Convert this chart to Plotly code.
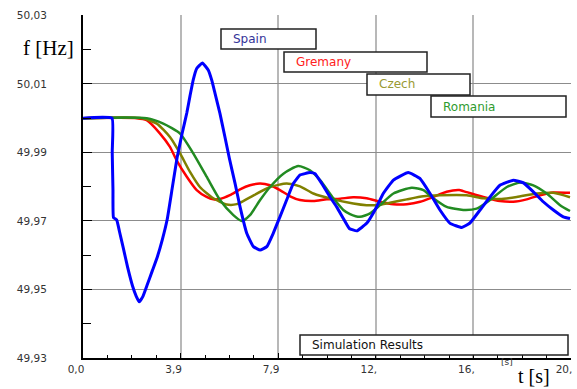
import plotly.graph_objects as go

# ---- data ----
t_spain = [0, 1.17, 1.18, 1.21, 1.23, 1.36, 1.47, 1.63, 1.80, 2.00, 2.15, 2.27, 2.42, 2.60, 2.80,
           3.00, 3.20, 3.40, 3.60, 3.80, 4.00, 4.19, 4.32, 4.45, 4.59, 4.82, 5.06, 5.20, 5.33, 5.53,
           5.73, 5.91, 6.14, 6.34, 6.61, 6.88, 7.15, 7.42, 7.68, 7.95, 8.22, 8.49, 8.76, 9.16, 9.37,
           9.64, 9.97, 10.24, 10.51, 10.75, 11.05, 11.45, 11.79, 12.12, 12.53, 13.13, 13.60, 14.01,
           14.41, 14.82, 15.29, 15.62, 16.03, 16.43, 16.83, 17.37, 17.78, 18.18, 18.58, 18.99,
           19.39, 19.66]
f_spain = [50.000, 50.000, 49.990, 49.979, 49.971, 49.9703, 49.967, 49.962, 49.9565, 49.951, 49.948,
           49.9464, 49.948, 49.9515, 49.9555, 49.9595, 49.9645, 49.9705, 49.9795, 49.9885, 49.9955,
           50.0015, 50.0065, 50.0112, 50.0145, 50.0161, 50.014, 50.011, 50.0072, 50.0013, 49.9945,
           49.9882, 49.9809, 49.9741, 49.9664, 49.9625, 49.9615, 49.9625, 49.9664, 49.9712, 49.9761,
           49.9809, 49.9834, 49.9841, 49.9838, 49.9809, 49.977, 49.9741, 49.9707, 49.9678, 49.9671,
           49.9693, 49.9732, 49.978, 49.9819, 49.9841, 49.9824, 49.978, 49.9732, 49.9693, 49.9681,
           49.9694, 49.9732, 49.977, 49.9804, 49.9819, 49.9811, 49.9785, 49.9756, 49.9732, 49.9712,
           49.9707]

t_germany = [0, 2.17, 2.57, 3.11, 3.51, 3.78, 4.19, 4.59, 4.99, 5.26, 5.53, 5.93, 6.34, 6.74, 7.15,
             7.55, 7.95, 8.36, 8.76, 9.30, 9.84, 10.38, 10.91, 11.45, 11.99, 12.53, 13.07, 13.61,
             14.14, 14.68, 15.19, 15.35, 16.16, 16.83, 17.37, 17.91, 18.45, 18.99, 19.66]
f_germany = [50.000, 50.000, 49.9994, 49.9955, 49.9916, 49.9877, 49.9829, 49.979, 49.977, 49.9763,
             49.9764, 49.9775, 49.9792, 49.9804, 49.9809, 49.9804, 49.979, 49.9772, 49.9761, 49.9758,
             49.9763, 49.9765, 49.9769, 49.9766, 49.9756, 49.9749, 49.9749, 49.9756, 49.977, 49.9785,
             49.979, 49.9787, 49.977, 49.9758, 49.9756, 49.9763, 49.9775, 49.9783, 49.9782]

t_czech = [0, 2.37, 2.98, 3.51, 3.92, 4.32, 4.72, 5.26, 5.80, 6.21, 6.74, 7.55, 8.22, 8.76, 9.30,
           10.11, 10.91, 11.45, 11.86, 12.39, 13.07, 13.74, 14.41, 15.49, 16.16, 16.83, 17.51, 18.32,
           18.99, 19.66]
f_czech = [50.000, 50.000, 49.9984, 49.9945, 49.9897, 49.9843, 49.9799, 49.9766, 49.9748, 49.9749,
           49.9769, 49.9799, 49.9809, 49.9801, 49.978, 49.9763, 49.9751, 49.9746, 49.9746, 49.9753,
           49.9763, 49.9772, 49.9775, 49.9775, 49.9766, 49.9764, 49.977, 49.978, 49.9782, 49.9769]

t_romania = [0, 2.57, 3.24, 3.92, 4.45, 4.99, 5.53, 6.07, 6.41, 6.74, 7.15, 7.55, 8.09, 8.69, 9.16,
             9.57, 10.11, 10.51, 10.78, 11.18, 11.59, 11.99, 12.53, 13.27, 13.74, 14.14, 14.68,
             15.35, 15.89, 16.43, 17.11, 17.64, 18.18, 18.72, 19.26, 19.66]
f_romania = [50.000, 50.000, 49.9984, 49.9955, 49.9897, 49.9829, 49.9761, 49.9717, 49.970, 49.9717,
             49.9761, 49.9799, 49.9838, 49.986, 49.9848, 49.9819, 49.9766, 49.9732, 49.972, 49.9712,
             49.9722, 49.9746, 49.978, 49.9797, 49.979, 49.9766, 49.9741, 49.9732, 49.9736, 49.9761,
             49.9799, 49.9812, 49.9804, 49.978, 49.9746, 49.9729]

x_tickvals = [0, 3.94, 7.88, 11.82, 15.76, 19.70]
x_ticktext = ["0,0", "3,9", "7,9", "12,", "16,", "20,"]
y_tickvals = [49.93, 49.95, 49.97, 49.99, 50.01, 50.03]
y_ticktext = ["49,93", "49,95", "49,97", "49,99", "50,01", "50,03"]
y_minorvals = [49.94, 49.96, 49.98, 50.00, 50.02]

series_names = ["Spain", "Gremany", "Czech", "Romania"]

# ---- layout geometry (pixels) ----
W, H = 577, 389
L, R, T, B = 83, 571, 15, 358
PW, PH = R - L, B - T


def px(x):
    return (x - L) / PW


def py(y):
    return (B - y) / PH


fig = go.Figure()
fig.add_trace(go.Scatter(x=t_germany, y=f_germany, mode="lines", name=series_names[1],
                         line=dict(color="#FF0000", width=2.5, shape="spline", smoothing=0.6)))
fig.add_trace(go.Scatter(x=t_czech, y=f_czech, mode="lines", name=series_names[2],
                         line=dict(color="#808000", width=2.5, shape="spline", smoothing=0.6)))
fig.add_trace(go.Scatter(x=t_romania, y=f_romania, mode="lines", name=series_names[3],
                         line=dict(color="#228B22", width=2.5, shape="spline", smoothing=0.6)))
fig.add_trace(go.Scatter(x=t_spain, y=f_spain, mode="lines", name=series_names[0],
                         line=dict(color="#0000FF", width=3, shape="spline", smoothing=0.35)))

tickfont = dict(family="DejaVu Sans", size=10.5, color="#333333")

fig.update_layout(
    width=W, height=H,
    margin=dict(l=L, r=W - R, t=T, b=H - B, pad=0),
    paper_bgcolor="white", plot_bgcolor="white",
    showlegend=False,
    xaxis=dict(range=[0, 19.7001], tickmode="array", tickvals=x_tickvals, ticktext=x_ticktext,
               showgrid=True, gridcolor="#b8b8b8", gridwidth=2, zeroline=False,
               showline=True, linecolor="black", linewidth=2,
               ticks="inside", ticklen=5, tickcolor="black", tickwidth=1,
               minor=dict(dtick=0.985, tick0=0, ticks="inside", ticklen=3, tickcolor="black",
                          showgrid=False),
               tickfont=tickfont, ticklabelshift=-7, ticklabelstandoff=0),
    yaxis=dict(range=[49.93, 50.0301], tickmode="array", tickvals=y_tickvals, ticktext=y_ticktext,
               showgrid=True, gridcolor="#8c8c8c", gridwidth=1, zeroline=False,
               showline=True, linecolor="black", linewidth=2,
               ticks="inside", ticklen=9, tickcolor="black", tickwidth=1,
               minor=dict(tickmode="array", tickvals=y_minorvals, ticks="inside", ticklen=8,
                          tickcolor="black", showgrid=False),
               tickfont=tickfont, ticklabelstandoff=32),
)

# legend-like boxes
boxes = [
    (series_names[0], 221, 316, 29, 49, "#333399"),
    (series_names[1], 284, 427, 52, 72, "#FF2020"),
    (series_names[2], 367, 470, 74, 95, "#999933"),
    (series_names[3], 431, 566, 96, 117, "#2E9B2E"),
    ("Simulation Results", 300, 568, 335, 355, "#111111"),
]
for text, x0, x1, y0, y1, col in boxes:
    fig.add_shape(type="rect", xref="paper", yref="paper", x0=px(x0), x1=px(x1), y0=py(y1), y1=py(y0),
                  line=dict(color="#222222", width=1.5), fillcolor="white", layer="above")
    fig.add_annotation(xref="paper", yref="paper", x=px(x0 + 10), y=py((y0 + y1) / 2), text=text,
                       showarrow=False, xanchor="left", yanchor="middle",
                       font=dict(family="DejaVu Sans", size=12, color=col))

# axis titles
fig.add_annotation(xref="paper", yref="paper", x=px(48.5), y=py(48), text="f [Hz]", showarrow=False,
                   xanchor="center", yanchor="middle",
                   font=dict(family="Liberation Serif", size=21, color="black"))
fig.add_annotation(xref="paper", yref="paper", x=px(534), y=py(376), text="t [s]", showarrow=False,
                   xanchor="center", yanchor="middle", borderpad=0,
                   font=dict(family="Liberation Serif", size=20, color="black"))
fig.add_annotation(xref="paper", yref="paper", x=px(507), y=py(362), text="[s]", showarrow=False,
                   xanchor="center", yanchor="middle", borderpad=0,
                   font=dict(family="DejaVu Sans", size=9, color="#333333"))

fig.write_html("out.html")
